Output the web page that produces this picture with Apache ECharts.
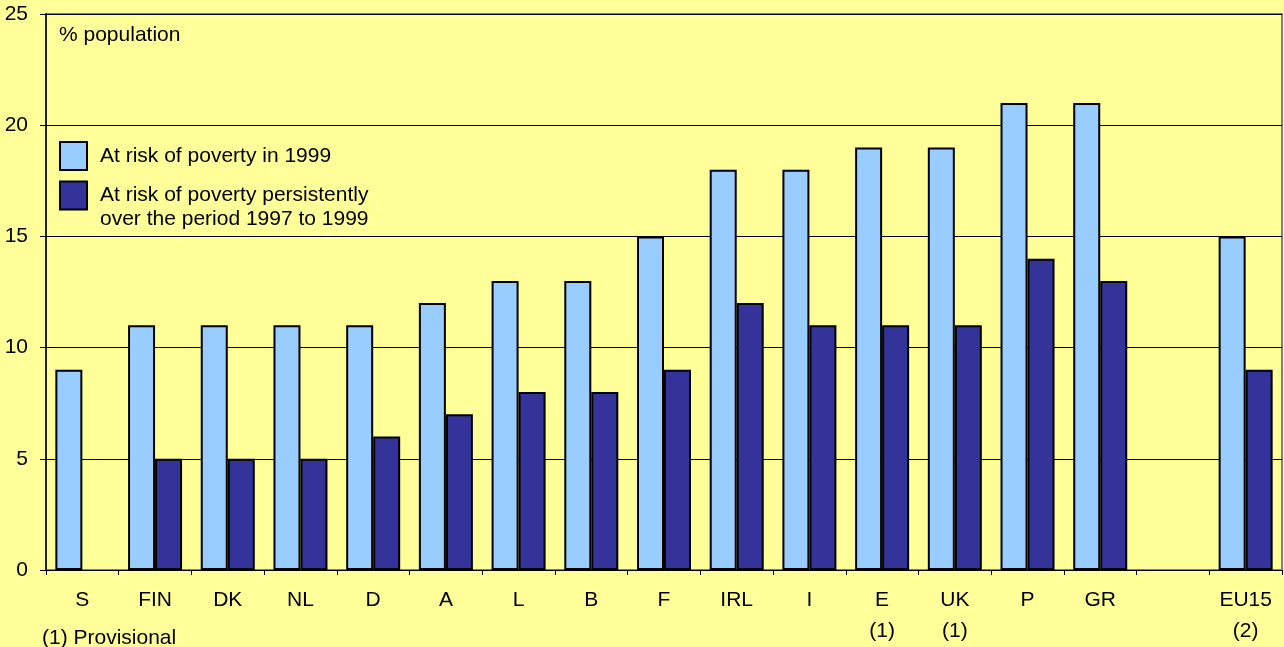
<!DOCTYPE html>
<html>
<head>
<meta charset="utf-8">
<script src="https://cdn.jsdelivr.net/npm/echarts@6/dist/echarts.min.js"></script>
<style>
  html, body { margin: 0; padding: 0; background: #FFFF99; }
  #chart { width: 1284px; height: 647px; }
</style>
</head>
<body>
<div id="chart"></div>
<script>
// Countries (the blank slot separates the member states from the EU15 average)
const countries = ['S', 'FIN', 'DK', 'NL', 'D', 'A', 'L', 'B', 'F', 'IRL', 'I', 'E', 'UK', 'P', 'GR', '', 'EU15'];
// Footnote marks shown under some country codes
const footnotes = ['', '', '', '', '', '', '', '', '', '', '', '(1)', '(1)', '', '', '', '(2)'];
// % of population at risk of poverty in 1999
const riskIn1999 = [9, 11, 11, 11, 11, 12, 13, 13, 15, 18, 18, 19, 19, 21, 21, '-', 15];
// % of population persistently at risk of poverty, 1997-1999
const riskPersistent = ['-', 5, 5, 5, 6, 7, 8, 8, 9, 12, 11, 11, 11, 14, 13, '-', 9];
// Value axis ticks
const yTicks = [0, 5, 10, 15, 20, 25];

const seriesNames = [
  'At risk of poverty in 1999',
  'At risk of poverty persistently\nover the period 1997 to 1999'
];

const FONT = 'Arial, "Liberation Sans", sans-serif';
const FS = 21;

const chart = echarts.init(document.getElementById('chart'), null, { renderer: 'canvas' });

chart.setOption({
  backgroundColor: '#FFFF99',
  animation: false,
  textStyle: { fontFamily: FONT, color: '#000' },
  grid: {
    left: 46, right: 2, top: 14, bottom: 77,
    show: true,
    backgroundColor: '#FFFF99',
    borderColor: '#808080',
    borderWidth: 2,
    outerBoundsMode: 'none',
    containLabel: false
  },
  legend: [
    {
      data: [seriesNames[0]],
      orient: 'vertical',
      left: 59, top: 141,
      padding: 0,
      itemWidth: 27, itemHeight: 28,
      itemGap: 0,
      selectedMode: false,
      icon: 'rect',
      itemStyle: { borderColor: '#000', borderWidth: 2 },
      textStyle: { fontFamily: FONT, fontSize: FS, color: '#000', padding: [2, 0, 0, 8] }
    },
    {
      data: [seriesNames[1]],
      orient: 'vertical',
      left: 59, top: 159.5,
      padding: 0,
      itemWidth: 27, itemHeight: 28,
      itemGap: 0,
      selectedMode: false,
      icon: 'rect',
      itemStyle: { borderColor: '#000', borderWidth: 2 },
      // blank leading line keeps the swatch level with the first line of the name
      formatter: name => ' \n' + name,
      textStyle: {
        fontFamily: FONT, fontSize: FS, color: '#000',
        lineHeight: 24,
        padding: [0, 0, 0, 8]
      }
    }
  ],
  xAxis: {
    type: 'category',
    data: countries,
    boundaryGap: true,
    axisLine: { show: true, lineStyle: { color: '#000', width: 1 } },
    axisTick: { show: true, alignWithLabel: false, length: 5, lineStyle: { color: '#000' } },
    axisLabel: {
      interval: 0,
      margin: 15,
      fontFamily: FONT,
      fontSize: FS,
      lineHeight: 31,
      color: '#000',
      formatter: (v, i) => footnotes[i] ? v + '\n' + footnotes[i] : v
    },
    splitLine: { show: false }
  },
  yAxis: {
    type: 'value',
    min: yTicks[0],
    max: yTicks[yTicks.length - 1],
    interval: yTicks[1] - yTicks[0],
    axisLine: { show: true, lineStyle: { color: '#000', width: 1.5 } },
    axisTick: { show: true, length: 6, lineStyle: { color: '#000' } },
    axisLabel: { margin: 18, fontFamily: FONT, fontSize: FS, color: '#000' },
    splitLine: { show: true, lineStyle: { color: '#000', width: 1 } }
  },
  graphic: [
    {
      type: 'text',
      x: 59, y: 35,
      style: { text: '% population', font: FS + 'px ' + FONT, fill: '#000', verticalAlign: 'middle' }
    },
    {
      type: 'text',
      x: 42, y: 638,
      style: { text: '(1) Provisional', font: FS + 'px ' + FONT, fill: '#000', verticalAlign: 'middle' }
    }
  ],
  series: [
    {
      name: seriesNames[0],
      type: 'bar',
      data: riskIn1999,
      barWidth: 27,
      barGap: '0%',
      itemStyle: { color: '#99CCFF', borderColor: '#000', borderWidth: 2 }
    },
    {
      name: seriesNames[1],
      type: 'bar',
      data: riskPersistent,
      barWidth: 27,
      barGap: '0%',
      itemStyle: { color: '#333399', borderColor: '#000', borderWidth: 2 }
    }
  ]
});
</script>
</body>
</html>
